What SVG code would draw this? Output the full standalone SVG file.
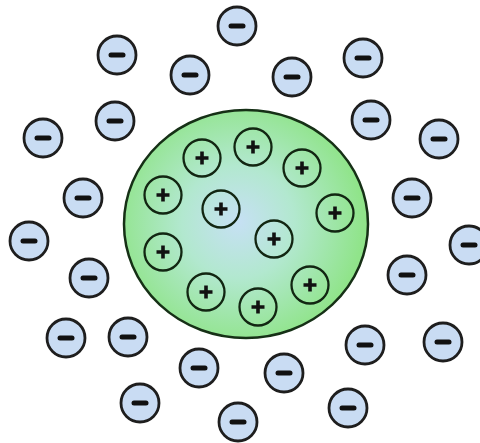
<svg xmlns="http://www.w3.org/2000/svg" width="480" height="443" viewBox="0 0 480 443">
<defs>
<radialGradient id="g" gradientUnits="userSpaceOnUse" cx="238" cy="222" r="125">
<stop offset="0" stop-color="#c6e0f4"/>
<stop offset="0.45" stop-color="#b2e8cf"/>
<stop offset="1" stop-color="#90e48a"/>
</radialGradient>
<g id="neg">
<circle r="19" fill="#c9dcf3" stroke="#1e1e1e" stroke-width="2.8"/>
<line x1="-6" y1="0" x2="6" y2="0" stroke="#111" stroke-width="5" stroke-linecap="round"/>
</g>
<g id="pos">
<circle r="18.5" fill="none" stroke="#122612" stroke-width="2.3"/>
<path d="M-6.5 0H6.5M0 -6.5V6.5" stroke="#111" stroke-width="3.6"/>
</g>
</defs>
<rect width="480" height="443" fill="#ffffff"/>
<g id="nucleus">
<ellipse cx="246" cy="224" rx="122" ry="114" fill="url(#g)" stroke="#163016" stroke-width="2.5"/>
</g>
<g id="positive">
<use href="#pos" x="202" y="158"/>
<use href="#pos" x="253" y="147"/>
<use href="#pos" x="302" y="168"/>
<use href="#pos" x="163" y="195"/>
<use href="#pos" x="221" y="209"/>
<use href="#pos" x="335" y="213"/>
<use href="#pos" x="163" y="252"/>
<use href="#pos" x="274" y="239"/>
<use href="#pos" x="206" y="292"/>
<use href="#pos" x="258" y="307"/>
<use href="#pos" x="310" y="285"/>
</g>
<g id="negative">
<use href="#neg" x="237" y="26"/>
<use href="#neg" x="117" y="55"/>
<use href="#neg" x="190" y="75"/>
<use href="#neg" x="292" y="77"/>
<use href="#neg" x="363" y="58"/>
<use href="#neg" x="115" y="121"/>
<use href="#neg" x="43" y="138"/>
<use href="#neg" x="371" y="120"/>
<use href="#neg" x="439" y="139"/>
<use href="#neg" x="83" y="198"/>
<use href="#neg" x="412" y="198"/>
<use href="#neg" x="29" y="241"/>
<use href="#neg" x="469" y="245"/>
<use href="#neg" x="89" y="278"/>
<use href="#neg" x="407" y="275"/>
<use href="#neg" x="66" y="338"/>
<use href="#neg" x="128" y="337"/>
<use href="#neg" x="365" y="345"/>
<use href="#neg" x="443" y="342"/>
<use href="#neg" x="199" y="368"/>
<use href="#neg" x="284" y="373"/>
<use href="#neg" x="140" y="403"/>
<use href="#neg" x="348" y="408"/>
<use href="#neg" x="238" y="422"/>
</g>
</svg>
